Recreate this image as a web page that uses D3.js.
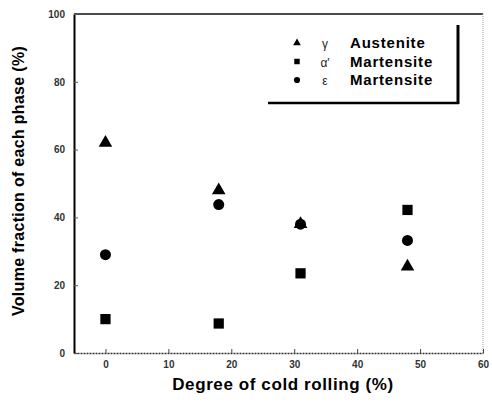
<!DOCTYPE html>
<html>
<head>
<meta charset="utf-8">
<script src="https://cdnjs.cloudflare.com/ajax/libs/d3/7.8.5/d3.min.js"></script>
<style>
  body { margin: 0; background: #fff; }
  text { font-family: Arial, "Liberation Sans", sans-serif; }
</style>
</head>
<body>
<script>
/* Data */
var rolling = [0, 18, 31, 48];
var austenite = [62, 48, 38, 25.5];
var alphaMart = [10, 8.7, 23.5, 42.2];
var epsMart = [29, 43.8, 38, 33.2];
var xTicks = [0, 10, 20, 30, 40, 50, 60];
var yTicks = [0, 20, 40, 60, 80, 100];
var legendItems = [
	{sym: "\u03b3", name: "Austenite", shape: "triangle"},
	{sym: "\u03b1'", name: "Martensite", shape: "square"},
	{sym: "\u03b5", name: "Martensite", shape: "circle"}
];

/* Display setup */
var width = 492, height = 410,
	plot = {left: 74, right: 483, top: 14, bottom: 353},
	svg = d3.select("body").append("svg")
		.attr("width", width)
		.attr("height", height),
	x = d3.scaleLinear().domain([-5, 60]).range([plot.left, plot.right]),
	y = d3.scaleLinear().domain([0, 100]).range([plot.bottom, plot.top]);

var series = [
	{values: austenite, shape: "triangle"},
	{values: alphaMart, shape: "square"},
	{values: epsMart, shape: "circle"}
];

var symbolOf = {
	triangle: d3.symbol().type(d3.symbolTriangle).size(80),
	square: d3.symbol().type(d3.symbolSquare).size(105),
	circle: d3.symbol().type(d3.symbolCircle).size(95)
};

/* Frame */
svg.append("line")
	.attr("x1", plot.left).attr("x2", plot.right)
	.attr("y1", plot.top).attr("y2", plot.top)
	.style("stroke", "#111").style("stroke-width", 1.5);
svg.append("line")
	.attr("x1", plot.right).attr("x2", plot.right)
	.attr("y1", plot.top).attr("y2", plot.bottom)
	.style("stroke", "#999").style("stroke-width", 1).style("stroke-dasharray", "1,1");

/* Axes */
var xAxis = d3.axisBottom(x).tickValues(xTicks).tickSizeInner(-4).tickSizeOuter(0).tickPadding(8);
var yAxis = d3.axisLeft(y).tickValues(yTicks).tickSizeInner(-4).tickSizeOuter(0).tickPadding(9);

var gx = svg.append("g")
	.attr("transform", "translate(0," + plot.bottom + ")")
	.call(xAxis);
gx.select(".domain").style("stroke", "#333").style("stroke-width", 1.5).style("stroke-dasharray", "2,1");
gx.selectAll(".tick line").style("stroke", "#444");
gx.selectAll(".tick text")
	.style("font-size", "10px").style("font-weight", "bold").style("fill", "#333");

var gy = svg.append("g")
	.attr("transform", "translate(" + plot.left + ",0)")
	.call(yAxis);
gy.select(".domain").style("stroke", "#000").style("stroke-width", 2);
gy.selectAll(".tick line").style("stroke", "#555");
gy.selectAll(".tick text")
	.style("font-size", "10px").style("font-weight", "bold").style("fill", "#333");

/* Axis titles */
svg.append("text")
	.attr("x", 283)
	.attr("y", 390)
	.attr("text-anchor", "middle")
	.style("font-size", "17px").style("font-weight", "bold")
	.style("letter-spacing", "0.6px")
	.text("Degree of cold rolling (%)");

svg.append("text")
	.attr("transform", "translate(24," + 181 + ") rotate(-90)")
	.attr("text-anchor", "middle")
	.style("font-size", "16px").style("font-weight", "bold")
	.style("letter-spacing", "0.3px")
	.text("Volume fraction of each phase (%)");

/* Points */
series.forEach(function(s) {
	svg.append("g").selectAll("path")
		.data(s.values)
		.enter().append("path")
			.attr("transform", function(d, i) { return "translate(" + x(rolling[i]) + "," + y(d) + ")"; })
			.attr("d", symbolOf[s.shape])
			.style("fill", "#000");
});

/* Legend box with shadow edges */
var lg = svg.append("g");
lg.append("line")
	.attr("x1", 458).attr("x2", 458).attr("y1", 25).attr("y2", 104)
	.style("stroke", "#000").style("stroke-width", 3);
lg.append("line")
	.attr("x1", 268).attr("x2", 459).attr("y1", 103).attr("y2", 103)
	.style("stroke", "#000").style("stroke-width", 2.5);

var legendSymbol = {
	triangle: d3.symbol().type(d3.symbolTriangle).size(26),
	square: d3.symbol().type(d3.symbolSquare).size(30),
	circle: d3.symbol().type(d3.symbolCircle).size(30)
};

var rows = lg.selectAll("g.row")
	.data(legendItems)
	.enter().append("g")
		.attr("class", "row")
		.attr("transform", function(d, i) { return "translate(0," + (43 + i * 18.5) + ")"; });

rows.append("path")
	.attr("transform", "translate(297,0)")
	.attr("d", function(d) { return legendSymbol[d.shape](); })
	.style("fill", "#000");

rows.append("text")
	.attr("x", 325).attr("y", 5)
	.attr("text-anchor", "middle")
	.style("font-size", "12px")
	.style("fill", "#222")
	.text(function(d) { return d.sym; });

rows.append("text")
	.attr("x", 350).attr("y", 5)
	.style("font-size", "15px").style("font-weight", "bold")
	.style("letter-spacing", "0.8px")
	.text(function(d) { return d.name; });
</script>
</body>
</html>
